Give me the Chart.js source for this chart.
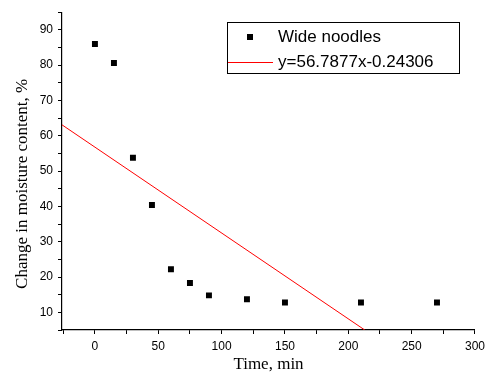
<!DOCTYPE html>
<html>
<head>
<meta charset="utf-8">
<script src="https://cdn.jsdelivr.net/npm/chart.js@4"></script>
<style>
  html, body { margin: 0; padding: 0; background: #fff; }
</style>
</head>
<body>
<canvas id="chart" width="490" height="378"></canvas>
<script>
// data
const timeMin = [0, 15, 30, 45, 60, 75, 90, 120, 150, 210, 270];
const moisture = [86.0, 80.6, 53.8, 40.4, 22.2, 18.3, 14.8, 13.7, 12.8, 12.8, 12.8];
const fitX = [-26, 213];
const fitY = [63.1, 5];
const xTicks = [-25, 0, 25, 50, 75, 100, 125, 150, 175, 200, 225, 250, 275, 300];
const yTicks = [5, 10, 15, 20, 25, 30, 35, 40, 45, 50, 55, 60, 65, 70, 75, 80, 85, 90, 95];
const seriesLabel = "Wide noodles";
const fitLabel = "y=56.7877x-0.24306";

const tickFont = { family: "'Liberation Sans', Arial", size: 12 };
const titleFont = { family: "'Liberation Serif', 'Times New Roman'", size: 17 };

// boxed legend in the upper right, like the original
const boxLegend = {
  id: "boxLegend",
  afterDraw(chart) {
    const ctx = chart.ctx;
    const sets = chart.data.datasets;
    ctx.save();
    ctx.strokeStyle = "#000";
    ctx.lineWidth = 1;
    ctx.strokeRect(227.5, 22.5, 232, 51);
    ctx.font = "17px 'Liberation Sans', Arial";
    ctx.textBaseline = "middle";
    // row 1: marker
    ctx.fillStyle = sets[0].backgroundColor;
    ctx.fillRect(247, 34, 6, 6);
    ctx.fillStyle = "#000";
    ctx.fillText(sets[0].label, 278, 37);
    // row 2: line
    ctx.strokeStyle = sets[1].borderColor;
    ctx.beginPath();
    ctx.moveTo(228, 62.5);
    ctx.lineTo(273, 62.5);
    ctx.stroke();
    ctx.fillText(sets[1].label, 278, 62);
    ctx.restore();
  }
};

new Chart(document.getElementById("chart"), {
  type: "scatter",
  data: {
    datasets: [
      {
        label: seriesLabel,
        data: timeMin.map((t, i) => ({ x: t, y: moisture[i] })),
        pointStyle: "rect",
        pointRadius: 4.2,
        backgroundColor: "#000",
        borderColor: "#000",
        borderWidth: 0,
        showLine: false,
      },
      {
        label: fitLabel,
        data: fitX.map((t, i) => ({ x: t, y: fitY[i] })),
        showLine: true,
        pointRadius: 0,
        borderColor: "#ff0000",
        borderWidth: 1,
        backgroundColor: "#ff0000",
      },
    ],
  },
  options: {
    responsive: false,
    animation: false,
    devicePixelRatio: 1,
    layout: { padding: { top: 10, right: 14, left: 0, bottom: 0 } },
    plugins: {
      legend: { display: false },
      tooltip: { enabled: false },
    },
    scales: {
      x: {
        type: "linear",
        min: -26,
        max: 300,
        afterBuildTicks: (s) => { s.ticks = xTicks.map((v) => ({ value: v })); },
        afterFit: (s) => { s.height = 48; },
        ticks: {
          color: "#000",
          font: tickFont,
          padding: 5,
          maxRotation: 0,
          autoSkip: false,
          callback: (v) => (v % 50 === 0 ? v : ""),
        },
        grid: { drawOnChartArea: false, drawTicks: true, tickLength: 4, color: "#000" },
        border: { color: "#000", width: 1.2 },
        title: { display: true, text: "Time, min", color: "#000", font: titleFont, padding: { top: 0, bottom: 3 } },
      },
      y: {
        type: "linear",
        min: 5,
        max: 95,
        afterBuildTicks: (s) => { s.ticks = yTicks.map((v) => ({ value: v })); },
        afterFit: (s) => { s.width = 62; },
        ticks: {
          color: "#000",
          font: tickFont,
          padding: 5,
          autoSkip: false,
          callback: (v) => (v % 10 === 0 ? v : ""),
        },
        grid: { drawOnChartArea: false, drawTicks: true, tickLength: 4, color: "#000" },
        border: { color: "#000", width: 1.2 },
        // trailing spaces push the title a bit lower, as in the original
        title: { display: true, text: "Change in moisture content, %      ", color: "#000", font: titleFont, padding: { top: 12, bottom: 0 } },
      },
    },
  },
  plugins: [boxLegend],
});
</script>
</body>
</html>
